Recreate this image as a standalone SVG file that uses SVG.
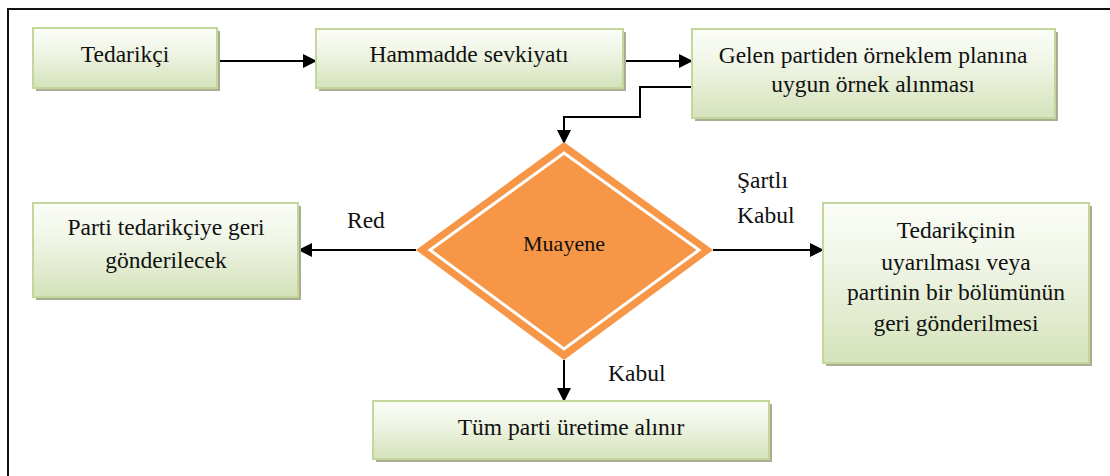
<svg xmlns="http://www.w3.org/2000/svg" width="1110" height="476" viewBox="0 0 1110 476">
  <defs>
    <linearGradient id="boxFill" x1="0" y1="0" x2="0" y2="1">
      <stop offset="0" stop-color="#fbfdf7"/>
      <stop offset="0.35" stop-color="#f1f6e8"/>
      <stop offset="1" stop-color="#d5e2ba"/>
    </linearGradient>
    <marker id="arrowBig" markerWidth="14" markerHeight="14" refX="13" refY="7" orient="auto" markerUnits="userSpaceOnUse">
      <path d="M0,0 L14,7 L0,14 Z" fill="#000"/>
    </marker>
  </defs>
  <style>
    .shadow { fill: #a8ad93; }
    .box { fill: url(#boxFill); stroke: #c3d69b; stroke-width: 2; }
    text { font-family: "Liberation Serif", "Times New Roman", serif; font-size: 23.5px; fill: #111; }
    .label { text-anchor: middle; }
    .conn { fill: none; stroke: #000; stroke-width: 2; marker-end: url(#arrowBig); }
  </style>

  <rect width="1110" height="476" fill="#fff"/>
  <!-- outer frame, open at the right and bottom -->
  <path d="M8,476 V9 H1110" fill="none" stroke="#111" stroke-width="2"/>

  <g id="connectors">
    <path class="conn" d="M217,61 H316"/>
    <path class="conn" d="M623,61 H692"/>
    <path class="conn" d="M692,87 H640 V117 H564 V143"/>
    <path class="conn" d="M416,250 H299"/>
    <path class="conn" d="M713,250 H823"/>
    <path class="conn" d="M564,360 V401"/>
  </g>

  <g id="edge-labels">
    <text x="347" y="228">Red</text>
    <text x="737" y="188">Şartlı</text>
    <text x="737" y="223">Kabul</text>
    <text x="608" y="381">Kabul</text>
  </g>

  <g id="tedarikci">
    <rect class="shadow" x="36" y="31" width="184" height="60"/>
    <rect class="box" x="33" y="28" width="184" height="60"/>
    <text class="label" x="125" y="62">Tedarikçi</text>
  </g>

  <g id="hammadde">
    <rect class="shadow" x="319" y="32" width="307" height="59"/>
    <rect class="box" x="316" y="29" width="307" height="59"/>
    <text class="label" x="469" y="62">Hammadde sevkiyatı</text>
  </g>

  <g id="ornek">
    <rect class="shadow" x="695" y="32" width="363" height="89"/>
    <rect class="box" x="692" y="29" width="363" height="89"/>
    <text class="label" x="873" y="63">Gelen partiden örneklem planına</text>
    <text class="label" x="873" y="92">uygun örnek alınması</text>
  </g>

  <g id="muayene">
    <polygon points="564,142 713,250 564,360 416,250" fill="#f79646"/>
    <polygon points="564,153 699,250 564,349 430,250" fill="none" stroke="#fff" stroke-width="3"/>
    <text class="label" x="564" y="251" style="font-size:22px">Muayene</text>
  </g>

  <g id="red-sonuc">
    <rect class="shadow" x="36" y="206" width="265" height="94"/>
    <rect class="box" x="33" y="203" width="265" height="94"/>
    <text class="label" x="166" y="235">Parti tedarikçiye geri</text>
    <text class="label" x="166" y="268">gönderilecek</text>
  </g>

  <g id="sartli-sonuc">
    <rect class="shadow" x="826" y="206" width="266" height="160"/>
    <rect class="box" x="823" y="203" width="266" height="160"/>
    <text class="label" x="956" y="238">Tedarikçinin</text>
    <text class="label" x="956" y="270">uyarılması veya</text>
    <text class="label" x="956" y="300">partinin bir bölümünün</text>
    <text class="label" x="956" y="331">geri gönderilmesi</text>
  </g>

  <g id="kabul-sonuc">
    <rect class="shadow" x="376" y="404" width="396" height="58"/>
    <rect class="box" x="373" y="401" width="396" height="58"/>
    <text class="label" x="571" y="435">Tüm parti üretime alınır</text>
  </g>
</svg>
